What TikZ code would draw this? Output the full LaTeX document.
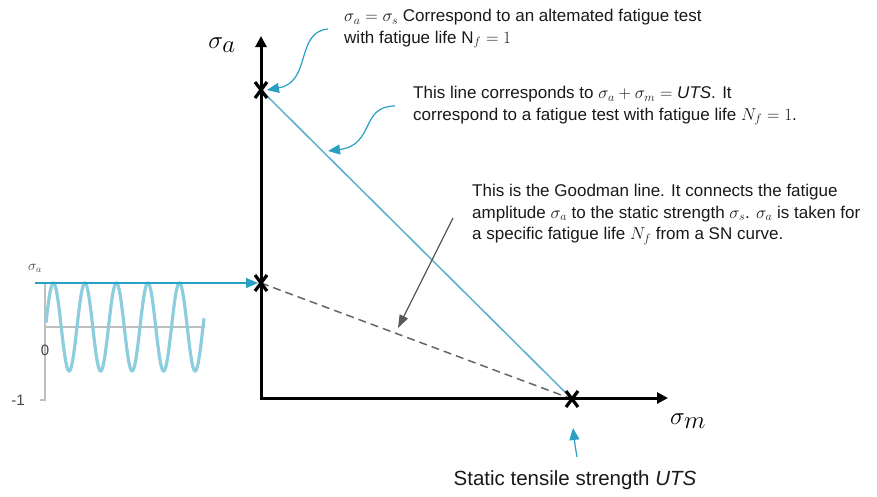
\documentclass[tikz,border=0pt]{standalone}
\usepackage{fontspec}
\setmainfont{Liberation Sans}
\usetikzlibrary{arrows.meta}
\definecolor{tipblue}{RGB}{40,160,196}
\definecolor{lineblue}{RGB}{90,174,204}
\definecolor{sineblue}{RGB}{140,206,222}
\definecolor{txtgray}{RGB}{70,70,70}
\begin{document}
\begin{tikzpicture}[x=1pt,y=-1pt,
  axis/.style={line width=3pt,-{Triangle[length=11pt,width=11pt]}},
  xmark/.style={line width=3.2pt},
  note/.style={font=\fontsize{17}{21.5}\selectfont,align=left,anchor=north west,inner sep=0pt,text=black!90},
  bluearrow/.style={tipblue,line width=1.2pt,-{Triangle[length=12pt,width=10pt]}},
  grayarrow/.style={black!65,line width=1.2pt,-{Triangle[length=13pt,width=9pt]}}]
\useasboundingbox (0,0) rectangle (877,496);
% key points
\coordinate (O) at (261,398);
\coordinate (Ytip) at (261,36);
\coordinate (Xtip) at (668,398);
\coordinate (A) at (261,90);
\coordinate (G) at (261,283);
\coordinate (U) at (572,399);
% lines
\draw[black!60,line width=1.5pt,dash pattern=on 8pt off 5pt] (G) -- (U);
\draw[lineblue,line width=1.5pt] (A) -- (U);
% axes
\draw[axis] (O) -- (Ytip);
\draw[axis] ([xshift=-1.5pt]O) -- (Xtip);
\node[font=\fontsize{40}{40}\selectfont] (sa) at (222,45) {$\sigma_a$};
\node[font=\fontsize{40}{40}\selectfont] (sm) at (688,421) {$\sigma_m$};
% x marks
\foreach \p in {A,G,U}{
  \draw[xmark] ([shift={(-6,-8)}]\p) -- ([shift={(6,8)}]\p);
  \draw[xmark] ([shift={(6,-8)}]\p) -- ([shift={(-6,8)}]\p);
}
% small sine plot
\draw[black!25,line width=1.2pt] (45,283) -- (45,400) -- (40,400);
\draw[black!25,line width=1.2pt] (45,327) -- (205,327);
\node[text=txtgray,font=\fontsize{15}{15}\selectfont] (m1) at (18,400) {-1};
\node[text=txtgray,font=\fontsize{15}{15}\selectfont] (z0) at (45,350) {0};
\node[text=txtgray,font=\fontsize{14}{14}\selectfont] (sa2) at (35,268) {$\sigma_a$};
\draw[sineblue,line width=3.2pt,domain=46:204,samples=200,smooth] plot (\x,{327-44*sin(11.4286*(\x-45.5))});
\coordinate (wstart) at (35,283);
\draw[bluearrow,line width=1.5pt] (wstart) -- ([xshift=-3pt]G);
% annotations
\node[note] (n1) at (344,9) {$\sigma_a=\sigma_s$ Correspond to an altemated fatigue test\\with fatigue life $\mathrm{N}_f=1$};
\node[note] (n2) at (413,86) {This line corresponds to $\sigma_a+\sigma_m=\mathit{UTS}$. It\\correspond to a fatigue test with fatigue life $N_f=1$.};
\node[note] (n3) at (472,184) {This is the Goodman line. It connects the fatigue\\amplitude $\sigma_a$ to the static strength $\sigma_s$. $\sigma_a$ is taken for\\a specific fatigue life $N_f$ from a SN curve.};
\node[note,font=\fontsize{20.5}{24}\selectfont,anchor=center] (n4) at (575,480) {Static tensile strength $\mathit{UTS}$};
\coordinate (c1) at (328,29);
\coordinate (c2) at (395,106);
\coordinate (c3) at (453,218);
\coordinate (c4) at (577,457);
\draw[bluearrow] (c1) .. controls (295,32) and (312,82) .. ([xshift=6pt]A);
\draw[bluearrow] (c2) .. controls (360,106) and (375,145) .. (328,151);
\draw[grayarrow] (c3) -- (398,328);
\draw[bluearrow] (c4) .. controls (575,445) .. (573,428);
\end{tikzpicture}
\end{document}
